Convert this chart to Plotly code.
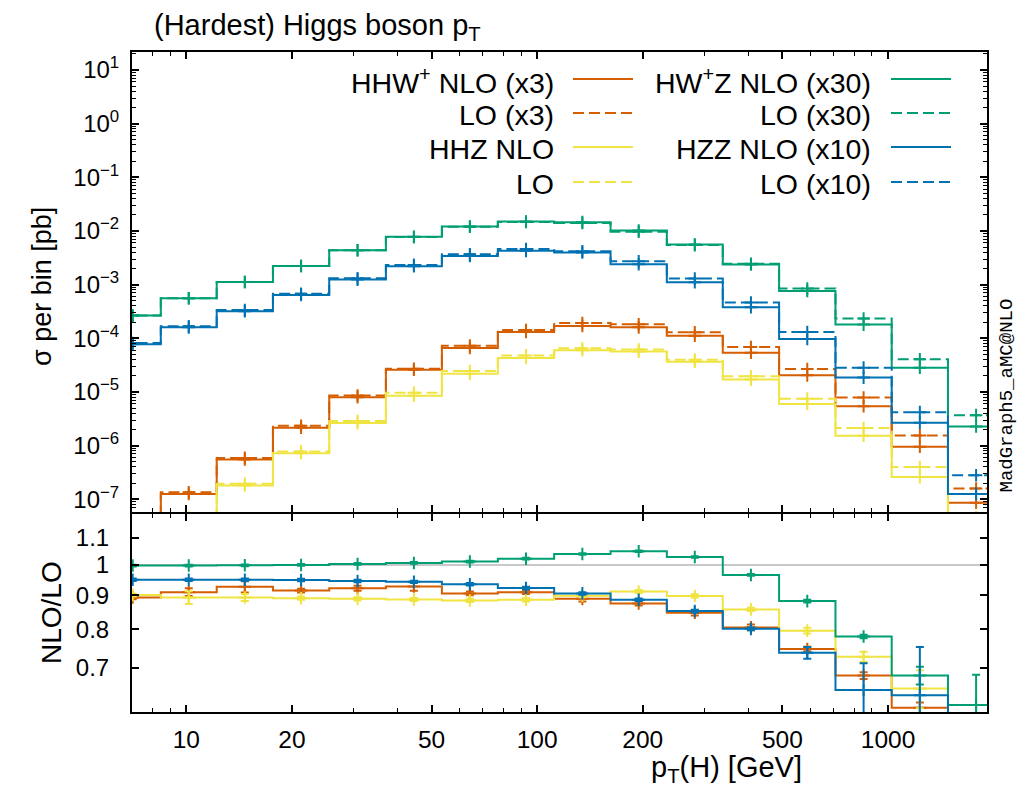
import plotly.graph_objects as go

# ---------------- data ----------------
# bin edges of pT(H) [GeV]
edges = [5.85, 8.46, 12.21, 17.66, 25.55, 37.06, 53.52, 77.27, 111.8, 161.9,
         234.2, 338.1, 489.3, 708.3, 1024.5, 1482.0, 2144.0]

# sigma per bin [pb] (already scaled as in legend)
hhw_nlo = [3.0e-8, 1.26e-7, 5.53e-7, 2.15e-6, 8.0e-6, 2.6e-5, 6.6e-5, 1.31e-4,
           1.70e-4, 1.60e-4, 1.12e-4, 5.4e-5, 2.04e-5, 5.4e-6, 9.5e-7, 8.6e-8]
hhw_lo = [3.4e-8, 1.35e-7, 5.9e-7, 2.35e-6, 8.6e-6, 2.7e-5, 7.3e-5, 1.43e-4,
          1.93e-4, 1.82e-4, 1.29e-4, 6.9e-5, 2.67e-5, 7.9e-6, 1.55e-6, 1.58e-7]
hhz_nlo = [1.0e-8, 4.0e-8, 1.81e-7, 7.2e-7, 2.63e-6, 8.5e-6, 2.19e-5, 4.29e-5,
           5.97e-5, 5.65e-5, 3.67e-5, 1.70e-5, 5.96e-6, 1.53e-6, 2.59e-7, 2.5e-8]
hhz_lo = [1.1e-8, 4.5e-8, 1.95e-7, 7.8e-7, 2.87e-6, 9.7e-6, 2.45e-5, 4.8e-5,
          6.5e-5, 6.15e-5, 4.0e-5, 1.96e-5, 7.5e-6, 2.12e-6, 3.98e-7, 4.6e-8]
hwz_nlo = [2.65e-4, 5.57e-4, 1.12e-3, 2.23e-3, 4.38e-3, 7.77e-3, 1.21e-2, 1.50e-2,
           1.46e-2, 1.02e-2, 5.6e-3, 2.37e-3, 7.63e-4, 1.80e-4, 2.84e-5, 2.28e-6]
hwz_lo = [2.66e-4, 5.58e-4, 1.12e-3, 2.23e-3, 4.36e-3, 7.72e-3, 1.20e-2, 1.47e-2,
          1.41e-2, 9.7e-3, 5.45e-3, 2.45e-3, 8.45e-4, 2.33e-4, 4.06e-5, 3.7e-6]
hzz_nlo = [7.73e-5, 1.60e-4, 3.19e-4, 6.43e-4, 1.24e-3, 2.20e-3, 3.43e-3, 4.26e-3,
           3.97e-3, 2.40e-3, 1.11e-3, 3.79e-4, 9.7e-5, 1.85e-5, 2.67e-6, 1.26e-7]
hzz_lo = [8.14e-5, 1.68e-4, 3.36e-4, 6.78e-4, 1.31e-3, 2.33e-3, 3.67e-3, 4.62e-3,
          4.20e-3, 2.73e-3, 1.30e-3, 4.63e-4, 1.31e-4, 2.84e-5, 4.2e-6, 2.8e-7]

# NLO/LO ratios and their uncertainties
hhw_ratio = [0.893, 0.910, 0.927, 0.915, 0.922, 0.928, 0.906, 0.910,
             0.889, 0.875, 0.847, 0.805, 0.747, 0.681, 0.609, 0.54]
hhw_rerr = [0.005, 0.012, 0.018, 0.006, 0.008, 0.014, 0.006, 0.006,
            0.008, 0.006, 0.008, 0.008, 0.006, 0.008, 0.011, 0.0]
hhz_ratio = [0.901, 0.893, 0.893, 0.891, 0.889, 0.887, 0.884, 0.886,
             0.899, 0.912, 0.898, 0.857, 0.796, 0.727, 0.651, 0.54]
hhz_rerr = [0.005, 0.020, 0.011, 0.005, 0.005, 0.005, 0.005, 0.005,
            0.005, 0.005, 0.005, 0.005, 0.008, 0.013, 0.043, 0.0]
hwz_ratio = [0.998, 0.998, 0.999, 1.000, 1.0035, 1.007, 1.012, 1.022,
             1.039, 1.049, 1.028, 0.966, 0.882, 0.780, 0.681, 0.615]
hwz_rerr = [0.003, 0.003, 0.003, 0.003, 0.003, 0.003, 0.003, 0.003,
            0.003, 0.003, 0.003, 0.003, 0.004, 0.005, 0.021, 0.068]
hzz_ratio = [0.950, 0.950, 0.950, 0.949, 0.946, 0.943, 0.935, 0.923,
             0.906, 0.886, 0.852, 0.801, 0.737, 0.648, 0.636, 0.45]
hzz_rerr = [0.004, 0.004, 0.004, 0.004, 0.004, 0.004, 0.004, 0.004,
            0.004, 0.004, 0.004, 0.004, 0.015, 0.063, 0.116, 0.0]

x_tick_vals = [10, 20, 50, 100, 200, 500, 1000]
x_tick_text = ["10", "20", "50", "100", "200", "500", "1000"]
y_tick_vals = [1e-7, 1e-6, 1e-5, 1e-4, 1e-3, 1e-2, 1e-1, 1e0, 1e1]
y_tick_text = ["10<sup>\u22127</sup>", "10<sup>\u22126</sup>", "10<sup>\u22125</sup>",
               "10<sup>\u22124</sup>", "10<sup>\u22123</sup>", "10<sup>\u22122</sup>",
               "10<sup>\u22121</sup>", "10<sup>0</sup>", "10<sup>1</sup>"]
r_tick_vals = [0.7, 0.8, 0.9, 1.0, 1.1]
r_tick_text = ["0.7", "0.8", "0.9", "1", "1.1"]

# ---------------- styling ----------------
ORANGE = "#D55E00"
YELLOW = "#F0E442"
GREEN = "#009E73"
BLUE = "#0072B2"
DASH = "11px,5px"
FONT = "Liberation Sans"

centers = [(edges[i] * edges[i + 1]) ** 0.5 for i in range(len(edges) - 1)]


def step_trace(vals, color, dash, xa, ya):
    return go.Scatter(x=edges, y=list(vals) + [vals[-1]], mode="lines",
                      line=dict(color=color, width=2, dash=dash, shape="hv"),
                      xaxis=xa, yaxis=ya, showlegend=False, hoverinfo="skip")


def marker_trace(vals, color, xa, ya, err=None):
    t = go.Scatter(x=centers, y=vals, mode="markers",
                   marker=dict(symbol="cross-thin", size=9, color=color,
                               line=dict(color=color, width=2)),
                   xaxis=xa, yaxis=ya, showlegend=False, hoverinfo="skip")
    if err is not None:
        t.error_y = dict(type="data", array=err, visible=True, color=color,
                         thickness=2, width=4)
    return t


fig = go.Figure()

series = [
    (hhw_nlo, hhw_lo, hhw_ratio, hhw_rerr, ORANGE),
    (hhz_nlo, hhz_lo, hhz_ratio, hhz_rerr, YELLOW),
    (hwz_nlo, hwz_lo, hwz_ratio, hwz_rerr, GREEN),
    (hzz_nlo, hzz_lo, hzz_ratio, hzz_rerr, BLUE),
]

for nlo, lo, ratio, rerr, col in series:
    fig.add_trace(step_trace(lo, col, DASH, "x", "y"))
    fig.add_trace(marker_trace(lo, col, "x", "y"))
    fig.add_trace(step_trace(nlo, col, "solid", "x", "y"))
    fig.add_trace(marker_trace(nlo, col, "x", "y"))

# reference line at ratio = 1
fig.add_shape(type="line", xref="x2 domain", yref="y2", x0=0, x1=1, y0=1, y1=1,
              line=dict(color="#c8c8c8", width=2), layer="below")

for nlo, lo, ratio, rerr, col in series:
    fig.add_trace(step_trace(ratio, col, "solid", "x2", "y2"))
    fig.add_trace(marker_trace(ratio, col, "x2", "y2", err=rerr))

# ---------------- axes ----------------
minor_x = [8, 9, 30, 40, 60, 70, 80, 90, 300, 400, 600, 700, 800, 900]
minor_y = [m * 10.0 ** k for k in range(-8, 2) for m in range(2, 10)]

common_x = dict(type="log", range=[0.8453, 3.2821], showgrid=False, zeroline=False,
                showline=True, linecolor="black", linewidth=2, mirror="allticks",
                ticks="inside", ticklen=7, tickwidth=1.5, tickcolor="black",
                tickmode="array", tickvals=x_tick_vals, ticktext=x_tick_text,
                automargin=False,
                minor=dict(tickmode="array", tickvals=minor_x, ticks="inside",
                           ticklen=4, tickcolor="black", tickwidth=1.2, showgrid=False))

# page has an 8px body margin: figure is 8px smaller, margins shifted by 8px
# panels leave a 2px gap that the (outward drawn) axis lines fill together
fig.update_layout(
    width=1017, height=780, autosize=False,
    margin=dict(l=124, r=38, t=44, b=76),
    paper_bgcolor="white", plot_bgcolor="white",
    font=dict(family=FONT, size=24, color="black"),
    showlegend=False,
    xaxis=dict(**common_x, domain=[0, 1], anchor="y", showticklabels=False),
    xaxis2=dict(**common_x, domain=[0, 1], anchor="y2", showticklabels=True,
                tickfont=dict(size=24.5), ticklabelstandoff=5),
    yaxis=dict(type="log", range=[-7.237, 1.335], domain=[200.0 / 660.0, 1], anchor="x",
               showgrid=False, zeroline=False, showline=True, linecolor="black",
               linewidth=2, mirror="allticks", ticks="inside", ticklen=7,
               tickwidth=1.5, tickcolor="black", tickmode="array",
               tickvals=y_tick_vals, ticktext=y_tick_text, tickfont=dict(size=24),
               ticklabelstandoff=6, automargin=False,
               minor=dict(tickmode="array", tickvals=minor_y, ticks="inside",
                          ticklen=4, tickcolor="black", tickwidth=1, showgrid=False)),
    yaxis2=dict(type="log", range=[-0.2218, 0.0769], domain=[0, 198.0 / 660.0],
                anchor="x2",
                showgrid=False, zeroline=False, showline=True, linecolor="black",
                linewidth=2, mirror="allticks", ticks="inside", ticklen=7,
                tickwidth=1.5, tickcolor="black", tickmode="array",
                tickvals=r_tick_vals, ticktext=r_tick_text, tickfont=dict(size=24),
                ticklabelstandoff=16, automargin=False),
)

# ---------------- texts ----------------
# page-pixel geometry of the plotting area (left edge, bottom edge, size)
PW, PH, L, B = 855.0, 660.0, 132.0, 712.0


def px(xp):
    return (xp - L) / PW


def py(yp):
    return (B - yp) / PH


ann = []
ann.append(dict(text="(Hardest) Higgs boson p<sub>T</sub>", x=px(152), y=py(27),
                xanchor="left", yanchor="middle", font=dict(size=29)))
ann.append(dict(text="\u03c3 per bin [pb]", x=px(42), y=py(287), textangle=-90,
                xanchor="center", yanchor="middle", font=dict(size=27)))
ann.append(dict(text="NLO/LO", x=px(51), y=py(613), textangle=-90,
                xanchor="center", yanchor="middle", font=dict(size=28)))
ann.append(dict(text="p<sub>T</sub>(H) [GeV]", x=px(726), y=py(769),
                xanchor="center", yanchor="middle", font=dict(size=29)))
ann.append(dict(text="MadGraph5_aMC@NLO", x=px(1006.5), y=py(396), textangle=-90,
                xanchor="center", yanchor="middle",
                font=dict(size=19, family="Liberation Mono")))

legend_rows = [
    ("HHW<sup>+</sup> NLO (x3)", ORANGE, "solid", 556, 573, 633, 79),
    ("LO (x3)", ORANGE, DASH, 556, 573, 633, 113),
    ("HHZ NLO", YELLOW, "solid", 556, 573, 633, 147),
    ("LO", YELLOW, DASH, 556, 573, 633, 182),
    ("HW<sup>+</sup>Z NLO (x30)", GREEN, "solid", 873, 891, 951, 79),
    ("LO (x30)", GREEN, DASH, 873, 891, 951, 113),
    ("HZZ NLO (x10)", BLUE, "solid", 873, 891, 951, 147),
    ("LO (x10)", BLUE, DASH, 873, 891, 951, 182),
]
for text, col, dash, tx, x0, x1, yy in legend_rows:
    ann.append(dict(text=text, x=px(tx), y=py(yy + 1.5), xanchor="right",
                    yanchor="middle", font=dict(size=28.5)))
    fig.add_shape(type="line", xref="paper", yref="paper", x0=px(x0), x1=px(x1),
                  y0=py(yy), y1=py(yy), line=dict(color=col, width=2, dash=dash))

for a in ann:
    a.update(xref="paper", yref="paper", showarrow=False)
fig.update_layout(annotations=ann)

fig.write_html("out.html")
